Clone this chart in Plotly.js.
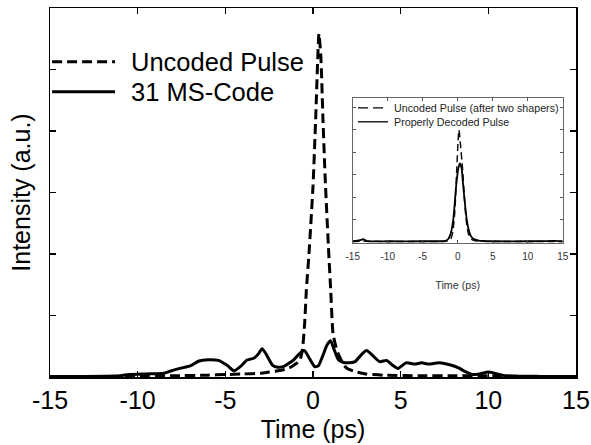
<!DOCTYPE html>
<html>
<head>
<meta charset="utf-8">
<script src="https://cdn.plot.ly/plotly-3.0.1.min.js"></script>
<style>html,body{margin:0;padding:0;background:#fff}#chart{width:591px;height:445px}</style>
</head>
<body>
<div id="chart"></div>
<script>
// ---- main panel data ----
const mainNames = ["Uncoded Pulse", "31 MS-Code"];
const uncodedT = [-15,-12,-10,-8,-6,-5,-4,-3,-2.5,-2,-1.5,-1.2,-1,-0.76,-0.6,-0.47,-0.38,-0.23,0,0.15,0.34,0.45,0.57,0.7,0.9,1.01,1.14,1.3,1.45,1.62,1.8,2.0,2.5,3,4,6,8,10,12,15];
const uncodedV = [0.01,0.01,0.01,0.02,0.03,0.04,0.05,0.06,0.08,0.1,0.13,0.17,0.21,0.26,0.45,0.9,1.41,2.0,3.1,4.18,5.58,5.2,4.18,3.2,2.0,1.41,0.71,0.5,0.37,0.27,0.18,0.13,0.08,0.05,0.03,0.02,0.02,0.02,0.01,0.01];
const codedT = [-15,-13,-11,-10.5,-9.5,-8.5,-8.2,-7.6,-7.0,-6.5,-6.0,-5.4,-4.9,-4.5,-4.1,-3.8,-3.35,-3.1,-2.9,-2.65,-2.3,-2.0,-1.7,-1.4,-1.1,-0.8,-0.5,-0.2,0.1,0.3,0.55,0.8,1.0,1.2,1.45,1.7,2.0,2.4,2.75,3.05,3.4,3.8,4.2,4.5,4.85,5.3,5.8,6.2,6.6,7.2,7.9,8.3,8.6,9.1,9.5,10.0,10.5,11,13,15];
const codedV = [0.01,0.01,0.02,0.04,0.05,0.06,0.09,0.14,0.18,0.26,0.28,0.27,0.19,0.10,0.18,0.27,0.31,0.38,0.46,0.36,0.19,0.16,0.17,0.22,0.28,0.37,0.43,0.3,0.17,0.18,0.34,0.52,0.59,0.45,0.28,0.24,0.23,0.25,0.36,0.43,0.35,0.25,0.27,0.2,0.14,0.23,0.21,0.23,0.21,0.23,0.19,0.15,0.1,0.04,0.05,0.08,0.05,0.02,0.01,0.01];
const xTicks = [-15,-10,-5,0,5,10,15];
const xTickText = ["-15","-10","-5","0","5","10","15"];
const yTicks = [0,1,2,3,4,5,6];

// ---- inset data ----
const insetNames = ["Uncoded Pulse (after two shapers)", "Properly Decoded Pulse"];
const insUncT = [-15,-14,-10,-5,-2,-1.5,-1.0,-0.7,-0.4,-0.14,0.05,0.19,0.35,0.71,0.95,1.2,1.5,1.9,2.5,5,10,15];
const insUncV = [0.02,0.03,0.02,0.02,0.02,0.04,0.12,0.45,1.4,3.2,4.5,5.0,4.5,3.2,2.0,1.0,0.4,0.13,0.05,0.02,0.02,0.02];
const insDecT = [-15,-14,-13.5,-13,-10,-5,-2,-1.5,-1.1,-0.63,-0.24,0.1,0.33,0.55,0.8,1.29,1.6,1.86,2.2,3,5,10,14,15];
const insDecV = [0.03,0.08,0.12,0.04,0.03,0.03,0.04,0.08,0.28,1.0,2.45,3.3,3.5,3.3,2.45,1.0,0.5,0.28,0.14,0.06,0.03,0.03,0.05,0.03];
const insetTicks = [1,2,3,4,5,6];

const FONT = "Liberation Sans, Arial, sans-serif";
const DASH_MAIN = '10px,5px';
const DASH_INSET = '10px,5px';

const traces = [
  {x: uncodedT, y: uncodedV, type: 'scatter', mode: 'lines', name: mainNames[0],
   line: {color: '#000', width: 3, dash: DASH_MAIN, shape: 'spline', smoothing: 0.5}, xaxis: 'x', yaxis: 'y'},
  {x: codedT, y: codedV, type: 'scatter', mode: 'lines', name: mainNames[1],
   line: {color: '#000', width: 3, shape: 'spline', smoothing: 0.6}, xaxis: 'x', yaxis: 'y'},
  {x: insUncT, y: insUncV, type: 'scatter', mode: 'lines', name: insetNames[0],
   line: {color: '#111', width: 1.5, dash: '7px,4px', shape: 'spline', smoothing: 0.5}, xaxis: 'x2', yaxis: 'y2'},
  {x: insDecT, y: insDecV, type: 'scatter', mode: 'lines', name: insetNames[1],
   line: {color: '#000', width: 1.8, shape: 'spline', smoothing: 0.5}, xaxis: 'x2', yaxis: 'y2'}
];

// legends drawn as sample lines + labels (positions in paper units)
const legends = [
  {names: mainNames, x0: 0.004, x1: 0.1236, xt: 0.152, ys: [0.8543, 0.773], width: 3, dash: DASH_MAIN, size: 25.5, color: '#000'},
  {names: insetNames, x0: 0.5856, x1: 0.6426, xt: 0.6515, ys: [0.7296, 0.6916], width: 1.3, dash: DASH_INSET, size: 10.7, color: '#222'}
];
const shapes = [];
const annotations = [];
legends.forEach(L => {
  L.names.forEach((n, i) => {
    shapes.push({type: 'line', xref: 'paper', yref: 'paper', x0: L.x0, x1: L.x1, y0: L.ys[i], y1: L.ys[i],
      line: {color: '#000', width: L.width, dash: i === 0 ? L.dash : 'solid'}});
    annotations.push({text: n, xref: 'paper', yref: 'paper', x: L.xt, y: L.ys[i], xanchor: 'left', yanchor: 'middle',
      showarrow: false, borderpad: 0, font: {family: FONT, size: L.size, color: L.color}});
  });
});

const layout = {
  width: 591, height: 445,
  margin: {l: 50, r: 15, t: 8, b: 68},
  paper_bgcolor: '#fff', plot_bgcolor: '#fff',
  font: {family: FONT, color: '#000'},
  showlegend: false,
  xaxis: {domain: [0, 1], range: [-15, 15], tickvals: xTicks, ticktext: xTickText,
    ticks: 'inside', ticklen: 6, tickwidth: 1.5, tickcolor: '#000',
    showline: true, linewidth: 1.5, linecolor: '#000', mirror: 'ticks',
    showgrid: false, zeroline: false, tickfont: {size: 25, family: FONT},
    title: {text: 'Time (ps)', font: {size: 25, family: FONT}, standoff: 8}},
  yaxis: {domain: [0, 1], range: [0, 6], tickvals: yTicks, showticklabels: false,
    ticks: 'inside', ticklen: 6, tickwidth: 1.5, tickcolor: '#000',
    showline: true, linewidth: 1.5, linecolor: '#000', mirror: 'ticks',
    showgrid: false, zeroline: false,
    title: {text: 'Intensity (a.u.)', font: {size: 25, family: FONT}, standoff: 11}},
  xaxis2: {domain: [0.5755, 0.9747], anchor: 'y2', range: [-15, 15], tickvals: xTicks, ticktext: xTickText,
    ticks: 'inside', ticklen: 3, tickwidth: 1, tickcolor: '#555',
    showline: true, linewidth: 1, linecolor: '#666', mirror: 'ticks',
    showgrid: false, zeroline: false, ticklabelstandoff: 4,
    tickfont: {size: 10, family: FONT, color: '#333'},
    title: {text: 'Time (ps)', font: {size: 10.7, family: FONT, color: '#333'}, standoff: 20}},
  yaxis2: {domain: [0.3618, 0.7567], anchor: 'x2', range: [-0.07, 6.43], tickvals: insetTicks, showticklabels: false,
    ticks: 'inside', ticklen: 3, tickwidth: 1, tickcolor: '#555',
    showline: true, linewidth: 1, linecolor: '#666', mirror: 'ticks',
    showgrid: false, zeroline: false},
  shapes: shapes,
  annotations: annotations
};

Plotly.newPlot('chart', traces, layout, {staticPlot: true, displayModeBar: false});
</script>
</body>
</html>
